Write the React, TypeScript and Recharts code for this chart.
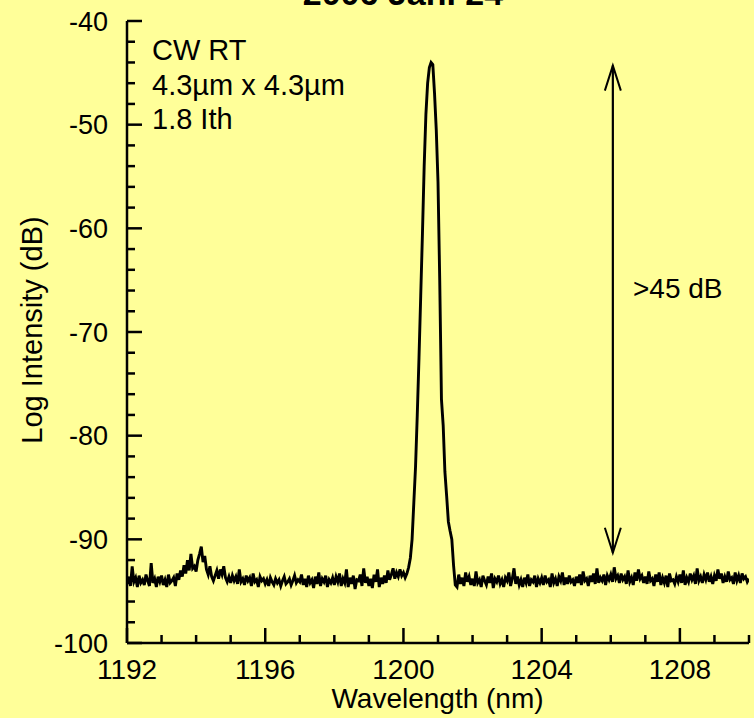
import { LineChart, Line, XAxis, YAxis, ReferenceLine } from 'recharts'

// spectrum sampled every 0.05 nm starting at 1192 nm
const START_NM = 1192
const STEP_NM = 0.05

// 1192.00 – 1199.95 nm, noise floor incl. the small bump near 1194 nm
const floorLeft = [
  -94.3, -93.6, -94.5, -92.6, -94.1, -93.7, -94.6, -93.5, -94.2, -93.9, -94.4, -93.4, -94.0, -94.5, -92.3, -94.2, -93.8, -94.6, -93.6, -94.1,
  -93.5, -94.4, -93.9, -94.6, -93.4, -94.2, -94.0, -93.7, -94.5, -93.3, -93.9, -93.0, -93.6, -92.5, -93.3, -92.0, -93.0, -91.4, -92.8, -92.6,
  -93.1, -92.0, -91.4, -90.7, -92.2, -91.6, -92.9, -93.4, -92.6, -93.6, -94.0, -93.5, -93.0, -93.8, -92.9, -93.4, -92.6, -93.7, -94.1, -93.6,
  -94.2, -93.5, -94.0, -93.6, -94.3, -92.9, -94.1, -93.8, -94.4, -93.5, -94.0, -93.7, -94.5, -93.3, -94.1, -93.9, -94.6, -93.6, -94.0, -93.8,
  -94.3, -93.9, -94.5, -93.7, -94.1, -94.4, -93.8, -94.2, -93.9, -94.5, -94.0, -93.6, -94.3, -94.1, -93.8, -94.4, -94.0, -93.5, -94.2, -93.9,
  -94.1, -93.4, -94.4, -93.8, -94.6, -93.5, -94.2, -93.9, -94.7, -93.6, -94.3, -93.2, -94.5, -93.8, -94.1, -93.5, -94.6, -93.9, -94.2, -93.7,
  -94.4, -93.6, -94.1, -93.3, -94.5, -93.8, -94.2, -92.9, -94.6, -93.7, -94.3, -93.5, -94.8, -93.9, -94.0, -93.4, -94.5, -92.8, -94.2, -93.6,
  -94.5, -93.8, -94.7, -93.4, -94.1, -92.9, -94.6, -93.7, -94.3, -93.5, -94.2, -93.0, -93.9, -93.4, -92.8, -93.8, -93.2, -93.6, -92.9, -93.5,
]

// 1200.00 – 1201.95 nm, lasing line
const peak = [
  -93.2, -93.7, -93.3, -92.7, -91.8, -90.0, -86.5, -83.0, -78.0, -72.5, -66.5, -60.5, -54.0, -49.0, -46.0, -44.5, -44.0, -44.2, -47.0, -50.5,
  -55.5, -65.0, -76.5, -79.0, -83.5, -85.8, -88.3, -89.2, -90.0, -92.5, -94.4, -94.6, -93.4, -94.3, -93.7, -94.5, -93.2, -94.1, -93.6, -94.4,
]

// 1202.00 – 1210.00 nm
const floorRight = [
  -93.8, -94.5, -93.1, -94.2, -93.9, -94.6, -93.5, -94.0, -94.4, -93.6, -94.2, -93.3, -94.7, -93.8, -94.1, -93.5, -94.3, -93.9, -94.6, -93.7,
  -94.0, -93.2, -94.5, -93.8, -92.8, -94.3, -93.6, -94.4, -93.9, -94.6, -93.7, -94.2, -93.4, -94.5, -93.9, -94.1, -93.5, -94.6, -93.8, -94.2,
  -93.7, -94.4, -93.5, -94.1, -93.9, -94.6, -93.3, -94.2, -93.8, -94.5, -93.6, -94.0, -93.2, -94.4, -93.7, -94.3, -93.5, -94.1, -93.9, -94.5,
  -93.6, -94.2, -93.4, -94.4, -93.1, -94.0, -93.8, -94.5, -93.5, -94.1, -93.3, -94.3, -92.8, -94.2, -93.7, -94.0, -93.4, -94.4, -93.5, -93.9,
  -93.4, -94.1, -92.7, -93.8, -93.5, -94.2, -93.3, -93.9, -93.6, -94.3, -93.0, -94.1, -93.7, -94.4, -93.2, -94.0, -92.9, -93.8, -93.5, -94.2,
  -93.6, -94.3, -93.1, -94.0, -93.8, -94.5, -93.4, -94.1, -93.2, -94.4, -93.7, -94.2, -93.5, -94.6, -93.3, -94.0, -93.9, -94.3, -93.6, -94.1,
  -93.4, -94.2, -93.0, -94.4, -93.7, -94.1, -93.3, -93.9, -93.5, -94.3, -92.8, -94.0, -93.6, -94.2, -93.4, -93.9, -93.2, -94.1, -93.6, -94.3,
  -93.5, -94.0, -92.9, -93.8, -93.3, -94.2, -93.6, -94.1, -93.1, -93.9, -93.7, -94.3, -93.2, -94.0, -93.5, -94.2, -93.3, -93.8, -93.6, -94.1,
  -93.8,
]

const xTicks = [1192, 1193, 1194, 1195, 1196, 1197, 1198, 1199, 1200, 1201, 1202, 1203, 1204, 1205, 1206, 1207, 1208, 1209, 1210]
const xLabels = [1192, 1196, 1200, 1204, 1208]
const yTicks = [-100, -98, -96, -94, -92, -90, -88, -86, -84, -82, -80, -78, -76, -74, -72, -70, -68, -66, -64, -62, -60, -58, -56, -54, -52, -50, -48, -46, -44, -42, -40]
const yLabels = [-100, -90, -80, -70, -60, -50, -40]

// >45 dB arrow: wavelength, bottom and top level
const arrowNm = 1206.06
const arrowFrom = -91.3
const arrowTo = -44.3

const notes = ['CW RT', '4.3µm x 4.3µm', '1.8 Ith']

const data = [...floorLeft, ...peak, ...floorRight].map((v, i) => ({
  nm: +(START_NM + i * STEP_NM).toFixed(2),
  v,
}))

const FONT = 'Arial, "Liberation Sans", sans-serif'
const BG = '#FFFF99'
const MAJOR = 15
const MINOR = 8

const BottomTick = (props: any) => {
  const { x, y, payload } = props
  const major = xLabels.includes(payload.value)
  return (
    <g>
      <line x1={x} y1={y} x2={x} y2={y - (major ? MAJOR : MINOR)} stroke="#000" strokeWidth={2.5} />
      {major && (
        <text x={x} y={y + 36} textAnchor="middle" fontSize={28} fontFamily={FONT} fill="#000">
          {payload.value}
        </text>
      )}
    </g>
  )
}

const TopTick = (props: any) => {
  const { x, y, payload } = props
  const major = xLabels.includes(payload.value)
  return <line x1={x} y1={y} x2={x} y2={y + (major ? MAJOR : MINOR)} stroke="#000" strokeWidth={2.5} />
}

const LeftTick = (props: any) => {
  const { x, y, payload } = props
  const major = yLabels.includes(payload.value)
  return (
    <g>
      <line x1={x} y1={y} x2={x + (major ? MAJOR : MINOR)} y2={y} stroke="#000" strokeWidth={2.5} />
      {major && (
        <text x={x - 19} y={y} dy="0.36em" textAnchor="end" fontSize={27} fontFamily={FONT} fill="#000">
          {payload.value}
        </text>
      )}
    </g>
  )
}

const RightTick = (props: any) => {
  const { x, y, payload } = props
  const major = yLabels.includes(payload.value)
  return <line x1={x} y1={y} x2={x - (major ? MAJOR : MINOR)} y2={y} stroke="#000" strokeWidth={2.5} />
}

export default function App() {
  return (
    <div style={{ position: 'absolute', left: 0, top: 0, width: 754, height: 718, background: BG }}>
      <LineChart width={754} height={718} data={data} margin={{ top: 21, right: 5, bottom: 0, left: 0 }}>
        <defs>
          <marker
            id="openHead"
            markerUnits="userSpaceOnUse"
            markerWidth={30}
            markerHeight={20}
            viewBox="0 0 30 20"
            refX={26}
            refY={10}
            orient="auto-start-reverse"
          >
            <path d="M1,2 L26,10 L1,18" fill="none" stroke="#000" strokeWidth={2} />
          </marker>
        </defs>
        <XAxis
          xAxisId="bottom"
          dataKey="nm"
          type="number"
          domain={[1192, 1210]}
          ticks={xTicks}
          interval={0}
          height={75}
          tickSize={0}
          tickMargin={0}
          tickLine={false}
          tick={<BottomTick />}
          axisLine={{ stroke: '#000', strokeWidth: 2.5 }}
          allowDataOverflow
        />
        <XAxis
          xAxisId="top"
          orientation="top"
          dataKey="nm"
          type="number"
          domain={[1192, 1210]}
          ticks={xTicks}
          interval={0}
          height={0}
          tickSize={0}
          tickMargin={0}
          tickLine={false}
          tick={<TopTick />}
          axisLine={{ stroke: '#000', strokeWidth: 2.5 }}
          allowDataOverflow
        />
        <YAxis
          yAxisId="left"
          type="number"
          domain={[-100, -40]}
          ticks={yTicks}
          interval={0}
          width={127}
          tickSize={0}
          tickMargin={0}
          tickLine={false}
          tick={<LeftTick />}
          axisLine={{ stroke: '#000', strokeWidth: 2.5 }}
          allowDataOverflow
        />
        <YAxis
          yAxisId="right"
          orientation="right"
          type="number"
          domain={[-100, -40]}
          ticks={yTicks}
          interval={0}
          width={0}
          tickSize={0}
          tickMargin={0}
          tickLine={false}
          tick={<RightTick />}
          axisLine={{ stroke: '#000', strokeWidth: 2.5 }}
          allowDataOverflow
        />
        <Line
          xAxisId="bottom"
          yAxisId="left"
          type="linear"
          dataKey="v"
          stroke="#000"
          strokeWidth={2.9}
          dot={false}
          activeDot={false}
          isAnimationActive={false}
        />
        <ReferenceLine
          xAxisId="bottom"
          yAxisId="left"
          segment={[
            { x: arrowNm, y: arrowFrom },
            { x: arrowNm, y: arrowTo },
          ]}
          stroke="#000"
          strokeWidth={2.2}
          markerStart="url(#openHead)"
          markerEnd="url(#openHead)"
        />
        <text x={403} y={5} textAnchor="middle" fontSize={34} fontWeight="bold" fontFamily={FONT} fill="#000">
          2006 Jan. 24
        </text>
        {notes.map((t, i) => (
          <text key={t} x={152} y={60 + i * 34.5} fontSize={29} fontFamily={FONT} fill="#000">
            {t}
          </text>
        ))}
        <text x={633} y={298} fontSize={28} fontFamily={FONT} fill="#000">
          &gt;45 dB
        </text>
        <text x={437.5} y={708} textAnchor="middle" fontSize={28} fontFamily={FONT} fill="#000">
          Wavelength (nm)
        </text>
        <text
          x={42}
          y={330}
          transform="rotate(-90 42 330)"
          textAnchor="middle"
          fontSize={29}
          fontFamily={FONT}
          fill="#000"
        >
          Log Intensity (dB)
        </text>
      </LineChart>
    </div>
  )
}
